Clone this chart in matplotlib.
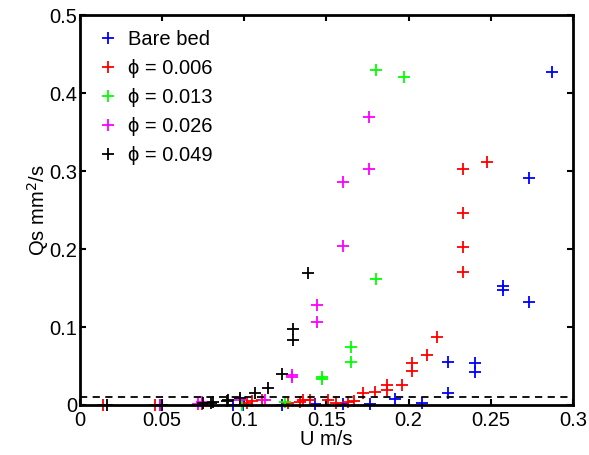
import numpy as np
import matplotlib
matplotlib.use('Agg')
import matplotlib.pyplot as plt

plt.rcParams['font.family'] = ['Liberation Sans', 'DejaVu Sans']

# bare bed
bare_x = [0.0487, 0.0933, 0.0994, 0.1227, 0.143, 0.160, 0.1765, 0.1917, 0.208,
          0.2241, 0.2241, 0.2404, 0.2404, 0.2572, 0.2572, 0.2733, 0.2733, 0.287]
bare_y = [0, 0, 0, 0, 0.001, 0.001, 0.001, 0.008, 0.003,
          0.016, 0.055, 0.042, 0.054, 0.147, 0.153, 0.132, 0.291, 0.427]

# phi = 0.006
p006_x = [0.0142, 0.0456, 0.074, 0.1014, 0.1045, 0.1106, 0.1268, 0.1339, 0.1359, 0.140,
          0.151, 0.156, 0.1633, 0.167, 0.1724, 0.1795, 0.1866, 0.1866, 0.1961, 0.2018,
          0.2018, 0.211, 0.217, 0.2329, 0.2329, 0.2329, 0.2329, 0.2479]
p006_y = [0, 0, 0.001, 0.002, 0.005, 0.006, 0.002, 0.004, 0.006, 0.007,
          0.006, 0.003, 0.004, 0.005, 0.015, 0.017, 0.019, 0.026, 0.025, 0.043,
          0.054, 0.064, 0.087, 0.170, 0.202, 0.246, 0.303, 0.311]

# phi = 0.013
p013_x = [0.0984, 0.1248, 0.147, 0.147, 0.1649, 0.1649, 0.1801, 0.1801, 0.1972]
p013_y = [0, 0.004, 0.033, 0.036, 0.055, 0.075, 0.162, 0.429, 0.421]

# phi = 0.026
p026_x = [0.0487, 0.072, 0.074, 0.0974, 0.1126, 0.1288, 0.1288, 0.144, 0.144,
          0.1599, 0.1599, 0.176, 0.176]
p026_y = [0, 0.001, 0.004, 0.006, 0.006, 0.036, 0.039, 0.107, 0.128,
          0.204, 0.286, 0.303, 0.369]

# phi = 0.049
p049_x = [0.0162, 0.05, 0.075, 0.080, 0.0811, 0.0893, 0.0903, 0.0974, 0.1065,
          0.1146, 0.1227, 0.1298, 0.1298, 0.1389]
p049_y = [0, 0, 0.002, 0.002, 0.004, 0.005, 0.007, 0.009, 0.015,
          0.022, 0.040, 0.083, 0.097, 0.169]

threshold = 0.01

fig = plt.figure(figsize=(5.89, 4.55), dpi=100)
ax = fig.add_axes([0.1358, 0.1099, 0.837, 0.857])

series = [(bare_x, bare_y, (0, 0, 1), 'Bare bed'),
          (p006_x, p006_y, (1, 0, 0), '\u03d5 = 0.006'),
          (p013_x, p013_y, (0, 1, 0), '\u03d5 = 0.013'),
          (p026_x, p026_y, (1, 0, 1), '\u03d5 = 0.026'),
          (p049_x, p049_y, (0, 0, 0), '\u03d5 = 0.049')]
for xs, ys, c, lab in series:
    ax.plot(xs, ys, linestyle='none', marker='+', markersize=9, mew=1.3,
            color=c, label=lab, clip_on=False)

ax.axhline(threshold, color='k', linestyle='--', linewidth=1.3, dashes=(4, 3))

ax.set_xlim(0, 0.3)
ax.set_ylim(0, 0.5)
ax.set_xticks([0, 0.05, 0.1, 0.15, 0.2, 0.25, 0.3])
ax.set_xticklabels(['0', '0.05', '0.1', '0.15', '0.2', '0.25', '0.3'])
ax.set_yticks([0, 0.1, 0.2, 0.3, 0.4, 0.5])
ax.set_yticklabels(['0', '0.1', '0.2', '0.3', '0.4', '0.5'])
ax.tick_params(direction='in', length=4, width=1.5, labelsize=14.5,
               top=True, right=True)
ax.tick_params(axis='x', pad=4)
ax.tick_params(axis='y', pad=2)
for s in ax.spines.values():
    s.set_linewidth(2)

ax.set_xlabel('U m/s', fontsize=14.5, labelpad=0)
ax.set_ylabel('Qs mm$^2$/s', fontsize=14.5, labelpad=-1)

leg = ax.legend(loc='upper left', frameon=False, fontsize=14.5, handletextpad=0.35,
                labelspacing=0.5, handlelength=1.3, borderaxespad=0.35)

fig.savefig('out.png', dpi=100)
